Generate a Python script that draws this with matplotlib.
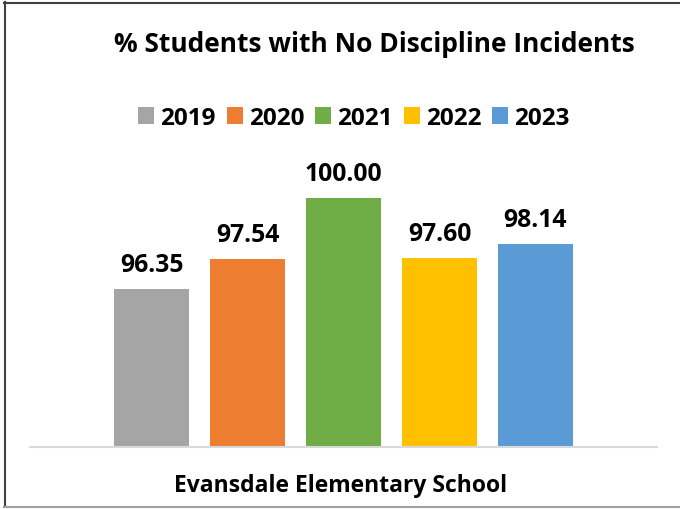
import matplotlib
matplotlib.use('Agg')
import matplotlib.pyplot as plt
from matplotlib.lines import Line2D

# data
years = ['2019', '2020', '2021', '2022', '2023']
values = [96.35, 97.54, 100.00, 97.60, 98.14]
colors = ['#A5A5A5', '#ED7D31', '#70AD47', '#FFC000', '#5B9BD5']
school = 'Evansdale Elementary School'
title = '% Students with No Discipline Incidents'

plt.rcParams['font.family'] = ['Open Sans', 'DejaVu Sans']
plt.rcParams['font.weight'] = 'bold'

W, H = 680, 510
fig = plt.figure(figsize=(W / 100, H / 100), dpi=100)
ax = fig.add_axes([30 / W, (H - 448) / H, 627 / W, 299 / H])

x = list(range(len(years)))
bars = ax.bar(x, values, width=0.79, color=colors)
for xi, v in zip(x, values):
    ax.annotate(f'{v:.2f}', (xi, v), xytext=(0, 13), textcoords='offset points',
                ha='center', va='baseline', fontsize=17.8, fontweight='bold')

ax.set_ylim(90, 102)
ax.set_xlim(2 - 3.266, 2 + 3.266)
for s in ['top', 'right', 'left']:
    ax.spines[s].set_visible(False)
ax.spines['bottom'].set_color('#D9D9D9')
ax.spines['bottom'].set_linewidth(1.5)
ax.set_xticks([])
ax.set_yticks([])

fig.text(374 / W, 1 - 44 / H, title, ha='center', va='center',
         fontsize=19, fontweight='bold')
fig.text(341 / W, 1 - 486 / H, school, ha='center', va='center',
         fontsize=16.5, fontweight='bold')

fig.legend(bars, years, loc='center', bbox_to_anchor=(354 / W, 1 - 119 / H),
           ncol=5, frameon=False, fontsize=17.5, handlelength=0.66, handleheight=0.66,
           handletextpad=0.25, columnspacing=0.45)

# outer border
fig.add_artist(Line2D([4.5 / W, 4.5 / W], [1 - 3 / H, 2 / H], transform=fig.transFigure,
                      color='#404040', lw=1.5))
fig.add_artist(Line2D([4 / W, 1], [1 - 3.5 / H, 1 - 3.5 / H], transform=fig.transFigure,
                      color='#404040', lw=1.5))
fig.add_artist(Line2D([4 / W, 1], [2 / H, 2 / H], transform=fig.transFigure,
                      color='#A0A0A0', lw=1.5))

fig.savefig('out.png', dpi=100)
